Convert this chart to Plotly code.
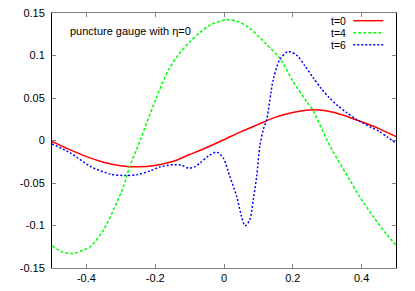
import plotly.graph_objects as go

# t=0 (red)
x_t0 = [-0.5, -0.45, -0.4, -0.35, -0.3, -0.25, -0.2, -0.15, -0.1, -0.05, 0.0, 0.05, 0.1,
        0.15, 0.2, 0.25, 0.3, 0.35, 0.4, 0.45, 0.5]
y_t0 = [-0.001, -0.0105, -0.019, -0.0255, -0.0296, -0.031, -0.0293, -0.0248, -0.0165, -0.0082, 0.001, 0.0105, 0.019,
        0.0275, 0.033, 0.036, 0.0348, 0.0295, 0.022, 0.014, 0.0047]

# t=4 (green)
x_t4 = [-0.5, -0.47, -0.44, -0.41, -0.388, -0.35, -0.321, -0.292, -0.274, -0.243, -0.2, -0.16, -0.13,
        -0.1, -0.07, -0.04, 0.008, 0.04, 0.075, 0.124, 0.162, 0.2, 0.24, 0.259, 0.3, 0.317, 0.356,
        0.394, 0.433, 0.472, 0.5]
y_t4 = [-0.124, -0.131, -0.133, -0.129, -0.1247, -0.105, -0.0815, -0.054, -0.0306, 0.0008, 0.047, 0.084, 0.102,
        0.116, 0.127, 0.136, 0.142, 0.140, 0.132, 0.113, 0.097, 0.070, 0.046, 0.035, 0.0, -0.013, -0.040,
        -0.066, -0.089, -0.110, -0.123]

# t=6 (blue)
x_t6 = [-0.5, -0.446, -0.388, -0.33, -0.287, -0.25, -0.214, -0.186, -0.147, -0.125, -0.103, -0.085,
        -0.07, -0.045, -0.021, -0.002, 0.017, 0.037, 0.051, 0.061, 0.075, 0.085, 0.095, 0.104, 0.114,
        0.124, 0.143, 0.162, 0.186, 0.211, 0.235, 0.259, 0.283, 0.307, 0.33, 0.356, 0.38, 0.404,
        0.43, 0.452, 0.475, 0.5]
y_t6 = [-0.004, -0.0148, -0.0306, -0.0396, -0.0412, -0.040, -0.0357, -0.031, -0.0286, -0.029, -0.0325, -0.031,
        -0.0266, -0.018, -0.0137, -0.0207, -0.0424, -0.0659, -0.0894, -0.1004, -0.0933, -0.0698, -0.0424, -0.007, 0.0126,
        0.0244, 0.0714, 0.095, 0.1047, 0.1005, 0.088, 0.074, 0.061, 0.050, 0.041, 0.033, 0.026, 0.0205,
        0.015, 0.0106, 0.004, -0.003]

series_names = ["t=0", "t=4", "t=6"]
series_colors = ["#ff0000", "#00ff00", "#0000ff"]
series_dash = ["solid", "3px,2px", "2px,2px"]

x_tickvals = [-0.4, -0.2, 0, 0.2, 0.4]
x_ticktext = ["-0.4", "-0.2", "0", "0.2", "0.4"]
y_tickvals = [-0.15, -0.1, -0.05, 0, 0.05, 0.1, 0.15]
y_ticktext = ["-0.15", "-0.1", "-0.05", "0", "0.05", "0.1", "0.15"]

title_text = "puncture gauge with η=0"

fig = go.Figure()
data = [(x_t0, y_t0), (x_t4, y_t4), (x_t6, y_t6)]
for (xs, ys), name, col, dash in zip(data, series_names, series_colors, series_dash):
    fig.add_trace(go.Scatter(x=xs, y=ys, mode="lines", name=name,
                             line=dict(color=col, width=1.5, dash=dash, shape="spline", smoothing=0.8),
                             showlegend=False))

font = dict(family="Liberation Sans, Arial, sans-serif", size=11, color="#000000")
leg_font = dict(family="Liberation Sans, Arial, sans-serif", size=10.5, color="#000000")

# custom gnuplot-style legend (text then sample line)
leg_y = [0.9698, 0.9227, 0.8757]
shapes = []
annotations = []
for name, col, dash, yy in zip(series_names, series_colors, series_dash, leg_y):
    annotations.append(dict(x=0.8567, y=yy, xref="paper", yref="paper", text=name,
                            showarrow=False, xanchor="right", yanchor="middle", font=leg_font,
                            borderpad=0))
    shapes.append(dict(type="line", xref="paper", yref="paper", x0=0.8759, x1=0.9631, y0=yy, y1=yy,
                       line=dict(color=col, width=1.5, dash=dash)))

annotations.append(dict(x=0.0494, y=0.9306, xref="paper", yref="paper", text=title_text,
                        showarrow=False, xanchor="left", yanchor="middle", font=font, borderpad=0))

# page body adds an 8px offset, so the figure is sized to fit the 415x291 window
fig.update_layout(
    width=407, height=283,
    margin=dict(l=44, r=19, t=5, b=23, autoexpand=False),
    paper_bgcolor="white", plot_bgcolor="white",
    font=font,
    shapes=shapes, annotations=annotations,
    xaxis=dict(range=[-0.5, 0.5], tickvals=x_tickvals, ticktext=x_ticktext, automargin=False,
               showgrid=False, zeroline=False, showline=True, linecolor="#808080", linewidth=1,
               mirror="ticks", ticks="inside", ticklen=4, tickcolor="#808080", tickwidth=1,
               tickfont=font, ticklabeloverflow="allow"),
    yaxis=dict(range=[-0.15, 0.15], tickvals=y_tickvals, ticktext=y_ticktext, automargin=False,
               showgrid=False, zeroline=False, showline=True, linecolor="#000000", linewidth=1,
               mirror="ticks", ticks="inside", ticklen=4, tickcolor="#808080", tickwidth=1,
               tickfont=font, ticklabelstandoff=4, ticklabeloverflow="allow"),
)

fig.write_html("out.html")
